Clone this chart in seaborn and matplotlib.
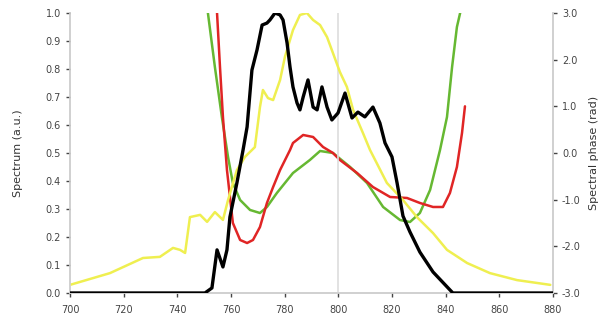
import numpy as np
import pandas as pd
import matplotlib
matplotlib.use("Agg")
import matplotlib.pyplot as plt
import seaborn as sns

# Spectrum (black), left axis
black_wl = [700, 750.3, 752.9, 754.8, 757.0, 758.5, 759.6, 762.2, 764.5, 766.0, 767.8, 769.7,
            771.6, 773.4, 774.5, 776.4, 778.3, 779.4, 780.9, 782.0, 783.1, 784.6, 785.7, 786.9,
            788.7, 790.6, 792.1, 793.9, 795.8, 797.6, 799.9, 802.5, 805.1, 807.3, 809.9, 812.9,
            815.5, 817.4, 820.0, 821.9, 824.1, 826.7, 830.4, 835.3, 841.6, 842.7, 880]
black_val = [0, 0, 0.018, 0.154, 0.093, 0.154, 0.271, 0.393, 0.511, 0.593, 0.796, 0.868,
             0.957, 0.964, 0.975, 1.0, 0.993, 0.975, 0.893, 0.807, 0.736, 0.679, 0.654, 0.700,
             0.761, 0.664, 0.654, 0.736, 0.664, 0.618, 0.643, 0.714, 0.625, 0.646, 0.629, 0.664,
             0.607, 0.536, 0.486, 0.393, 0.275, 0.218, 0.146, 0.075, 0.011, 0, 0]

# Second spectrum (yellow), left axis
yellow_wl = [700, 714.9, 727.2, 733.5, 738.4, 741.0, 742.9, 744.7, 748.5, 751.1, 754.0, 757.0,
             758.9, 762.2, 765.2, 768.9, 770.8, 771.9, 773.8, 775.7, 778.3, 780.1, 782.0, 783.1,
             785.7, 788.3, 790.6, 793.2, 795.8, 798.0, 800.6, 803.2, 805.5, 809.2, 811.8, 818.1,
             824.1, 829.3, 835.3, 840.5, 848.0, 856.5, 866.6, 879]
yellow_val = [0.029, 0.071, 0.125, 0.129, 0.161, 0.154, 0.143, 0.271, 0.279, 0.254, 0.289, 0.261,
              0.332, 0.439, 0.486, 0.521, 0.664, 0.725, 0.696, 0.689, 0.761, 0.843, 0.904, 0.939,
              0.993, 1.0, 0.975, 0.957, 0.914, 0.857, 0.789, 0.736, 0.654, 0.571, 0.511, 0.393,
              0.332, 0.271, 0.214, 0.154, 0.107, 0.071, 0.046, 0.029]

# Phase curves, right axis
green_wl = [750.5, 751.4, 754.0, 756.6, 758.9, 760.7, 763.4, 767.1, 770.8, 773.4, 777.1, 783.1,
            789.4, 793.2, 798.0, 804.4, 810.7, 816.7, 823.0, 826.7, 830.4, 834.2, 837.9, 840.5,
            842.4, 844.2, 845.4, 846.0]
green_val = [3.3, 3.0, 1.843, 0.771, -0.086, -0.643, -1.007, -1.221, -1.286, -1.157, -0.857, -0.429,
             -0.150, 0.043, 0.0, -0.300, -0.643, -1.157, -1.436, -1.479, -1.286, -0.793, 0.064, 0.771,
             1.843, 2.7, 3.0, 3.3]

red_wl = [754.0, 754.8, 755.9, 757.0, 758.5, 760.7, 763.4, 766.0, 768.2, 770.8, 773.4, 775.7,
          778.3, 782.0, 783.1, 786.9, 790.6, 794.3, 798.0, 800.6, 807.0, 812.9, 819.3, 825.6,
          830.4, 835.3, 839.0, 841.6, 844.2, 846.1, 847.2]
red_val = [3.5, 3.0, 1.843, 0.771, -0.364, -1.5, -1.864, -1.929, -1.864, -1.586, -1.071, -0.729,
           -0.364, 0.064, 0.214, 0.386, 0.343, 0.129, 0.0, -0.150, -0.429, -0.729, -0.943, -0.964,
           -1.071, -1.157, -1.157, -0.857, -0.300, 0.429, 1.0]

x_ticks = [700, 720, 740, 760, 780, 800, 820, 840, 860, 880]
left_ticks = [0.0, 0.1, 0.2, 0.3, 0.4, 0.5, 0.6, 0.7, 0.8, 0.9, 1.0]
right_ticks = [-3, -2, -1, 0, 1, 2, 3]

sns.set_style("white")
plt.rcParams["font.family"] = ["DejaVu Sans"]

fig = plt.figure(figsize=(6.05, 3.25), dpi=100)
ax = fig.add_axes([0.1157, 0.0985, 0.7983, 0.8615])
ax2 = ax.twinx()

# vertical reference line at 800 nm
ax.axvline(800, color="#dddddd", lw=1.2, zorder=0)

sns.lineplot(x=yellow_wl, y=yellow_val, ax=ax, color="#efef50", lw=1.8, sort=False)
sns.lineplot(x=black_wl, y=black_val, ax=ax, color="black", lw=2.4, sort=False, zorder=5)
sns.lineplot(x=green_wl, y=green_val, ax=ax2, color="#66b832", lw=1.8, sort=False)
sns.lineplot(x=red_wl, y=red_val, ax=ax2, color="#e02525", lw=1.8, sort=False)
ax2.set_zorder(ax.get_zorder() - 1)
ax.patch.set_visible(False)

ax.set_xlim(700, 880)
ax.set_ylim(0, 1.0)
ax2.set_ylim(-3, 3)
ax.set_xticks(x_ticks)
ax.set_yticks(left_ticks)
ax2.set_yticks(right_ticks)
ax.set_yticklabels([f"{v:.1f}" for v in left_ticks])
ax2.set_yticklabels([f"{v:.1f}" for v in right_ticks])

ax.set_ylabel("Spectrum (a.u.)", fontsize=8, color="#333333", labelpad=16)
ax2.set_ylabel("Spectral phase (rad)", fontsize=8, color="#333333", labelpad=6)

for a in (ax, ax2):
    for s in a.spines.values():
        s.set_color("#d0d0d0")
        s.set_linewidth(1.2)
    a.spines["top"].set_visible(False)
    a.tick_params(labelsize=7, colors="#444444", length=3, width=1, direction="out")
ax.tick_params(axis="x", bottom=True, pad=6)
ax.tick_params(axis="y", left=True)
ax2.tick_params(axis="y", right=True)

fig.savefig("out.png", dpi=100)
